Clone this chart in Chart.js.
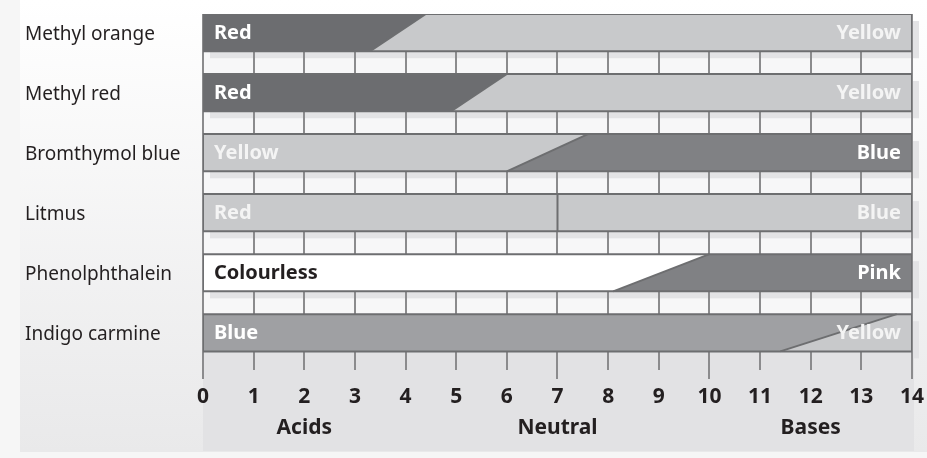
<!DOCTYPE html>
<html>
<head>
<meta charset="utf-8">
<script src="https://cdn.jsdelivr.net/npm/chart.js@4.4.0/dist/chart.umd.min.js"></script>
<style>
  html, body { margin: 0; padding: 0; background: #f6f6f6; }
  #wrap { width: 927px; height: 458px; }
</style>
</head>
<body>
<div id="wrap"><canvas id="myChart" width="927" height="458"></canvas></div>
<script>
// indicadors i rang de viratge (pH)
const indicators = ['Methyl orange', 'Methyl red', 'Bromthymol blue', 'Litmus', 'Phenolphthalein', 'Indigo carmine'];
const acidColour = ['Red', 'Red', 'Yellow', 'Red', 'Colourless', 'Blue'];
const baseColour = ['Yellow', 'Yellow', 'Blue', 'Blue', 'Pink', 'Yellow'];
const rangeStart = [3.3, 4.9, 6.0, 7.0, 8.1, 11.4];
const rangeEnd = [4.4, 6.0, 7.6, 7.0, 10.0, 13.7];

// eix de pH
const phTicks = [0, 1, 2, 3, 4, 5, 6, 7, 8, 9, 10, 11, 12, 13, 14];
const regionLabels = ['Acids', 'Neutral', 'Bases'];
const regionAt = [2, 7, 12];
const longTicks = [0, 7, 10, 14];

// colors de cada franja
const acidFill = ['#6c6d70', '#6c6d70', '#c8c9cb', '#c8c9cb', '#ffffff', '#9fa0a3'];
const baseFill = ['#c8c9cb', '#c8c9cb', '#808184', '#c8c9cb', '#808184', '#c8c9cb'];
const acidText = ['#ffffff', '#ffffff', '#f4f4f4', '#f4f4f4', '#231f20', '#ffffff'];
const baseText = ['#f4f4f4', '#f4f4f4', '#ffffff', '#f4f4f4', '#ffffff', '#f4f4f4'];

const edge = '#6d6e70';
const barHalf = 0.31;
const phMin = phTicks[0];
const phMax = phTicks[phTicks.length - 1];

const datasets = [];
indicators.forEach((name, i) => {
    const top = i - barHalf;
    const bottom = i + barHalf;
    // franja acida (tota l'amplada)
    datasets.push({
        data: [{ x: phMin, y: top }, { x: phMax, y: top }],
        fill: { value: bottom },
        backgroundColor: acidFill[i],
        borderWidth: 0,
        order: 4
    });
    // franja basica amb la diagonal del viratge
    datasets.push({
        data: [{ x: rangeStart[i], y: bottom }, { x: rangeEnd[i], y: top }, { x: phMax, y: top }],
        fill: { value: bottom },
        backgroundColor: baseFill[i],
        borderWidth: 0,
        order: 3
    });
    // contorn
    datasets.push({
        data: [{ x: phMin, y: top }, { x: phMax, y: top }, { x: phMax, y: bottom }, { x: phMin, y: bottom }, { x: phMin, y: top }],
        fill: false,
        borderColor: edge,
        borderWidth: 2,
        order: 2
    });
    // linia del viratge
    datasets.push({
        data: [{ x: rangeStart[i], y: bottom }, { x: rangeEnd[i], y: top }],
        fill: false,
        borderColor: edge,
        borderWidth: 2,
        order: 1
    });
});

const backdrop = {
    id: 'backdrop',
    beforeDraw(chart) {
        const { ctx, scales: { x, y } } = chart;
        const w = chart.width, h = chart.height;
        ctx.save();
        ctx.fillStyle = '#f6f6f6';
        ctx.fillRect(0, 0, w, h);
        const g = ctx.createLinearGradient(0, 0, 0, 452);
        g.addColorStop(0, '#ffffff');
        g.addColorStop(1, '#e9e9ea');
        ctx.fillStyle = g;
        ctx.fillRect(20, 0, w - 20, 452);

        const left = x.getPixelForValue(phMin);
        const right = x.getPixelForValue(phMax);
        const top = y.getPixelForValue(-barHalf);
        const lastBottom = y.getPixelForValue(indicators.length - 1 + barHalf);

        ctx.fillStyle = '#f7f7f8';
        ctx.fillRect(left, top, right - left, lastBottom - top);
        // ombres
        ctx.fillStyle = '#e3e3e5';
        indicators.forEach((_, i) => {
            const t = y.getPixelForValue(i - barHalf);
            const b = y.getPixelForValue(i + barHalf);
            ctx.fillRect(left + 7, t + 7, right - left, b - t);
        });
        // panell inferior
        ctx.fillStyle = '#e2e2e4';
        ctx.fillRect(left, lastBottom, right - left + 2, 451 - lastBottom);
        ctx.restore();
    },
    afterDatasetsDraw(chart) {
        const { ctx, scales: { x, y } } = chart;
        const left = x.getPixelForValue(phMin);
        const right = x.getPixelForValue(phMax);
        ctx.save();
        ctx.font = 'bold 20px "Noto Sans"';
        ctx.textBaseline = 'middle';
        indicators.forEach((_, i) => {
            const cy = y.getPixelForValue(i) + 1;
            ctx.textAlign = 'left';
            ctx.fillStyle = acidText[i];
            ctx.fillText(acidColour[i], left + 11, cy);
            ctx.textAlign = 'right';
            ctx.fillStyle = baseText[i];
            ctx.fillText(baseColour[i], right - 11, cy);
        });
        ctx.restore();
    }
};

const ctx = document.getElementById('myChart').getContext('2d');
const chart = new Chart(ctx, {
    type: 'line',
    data: { datasets: datasets },
    plugins: [backdrop],
    options: {
        responsive: false,
        animation: false,
        devicePixelRatio: 1,
        events: [],
        layout: { padding: { left: 25, top: 14, right: 15, bottom: 0 } },
        elements: { point: { radius: 0 }, line: { tension: 0 } },
        plugins: { legend: { display: false }, tooltip: { enabled: false } },
        scales: {
            x: {
                type: 'linear',
                min: phMin,
                max: phMax,
                afterBuildTicks: (axis) => { axis.ticks = phTicks.map((v) => ({ value: v })); },
                afterFit: (axis) => { axis.height = 88; },
                border: { display: false },
                grid: {
                    color: '#8b8b8d',
                    lineWidth: 2,
                    tickLength: 9,
                    tickColor: (c) => (c.tick && longTicks.includes(c.tick.value) ? '#8b8b8d' : 'rgba(0,0,0,0)')
                },
                ticks: {
                    autoSkip: false,
                    maxRotation: 0,
                    padding: 3,
                    color: '#231f20',
                    font: { family: '"Noto Sans"', size: 21, weight: 'bold', lineHeight: 1.45 },
                    callback: (value) => {
                        const k = regionAt.indexOf(value);
                        return k >= 0 ? [String(value), regionLabels[k]] : String(value);
                    }
                }
            },
            y: {
                type: 'linear',
                reverse: true,
                min: -barHalf,
                max: 5.62,
                afterBuildTicks: (axis) => { axis.ticks = indicators.map((_, i) => ({ value: i })); },
                afterFit: (axis) => { axis.width = 178; },
                border: { display: false },
                grid: { display: false },
                ticks: {
                    crossAlign: 'far',
                    padding: 0,
                    labelOffset: 2,
                    color: '#231f20',
                    font: { family: '"Noto Sans"', size: 19 },
                    callback: (value) => indicators[value]
                }
            }
        }
    }
});
</script>
</body>
</html>
